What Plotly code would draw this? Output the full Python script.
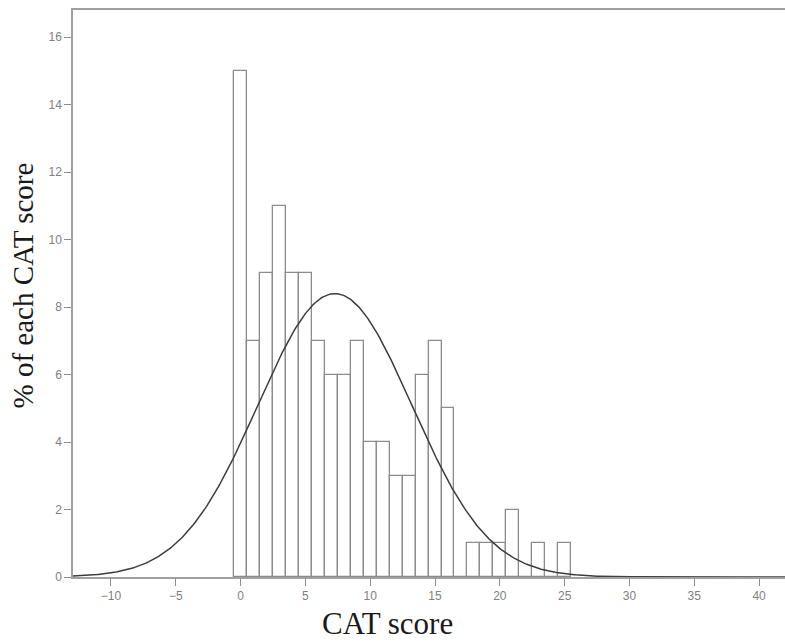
import numpy as np
import plotly.graph_objects as go

# Histogram data (CAT score bins and % values)
scores = list(range(0, 26))
percents = [15, 7, 9, 11, 9, 9, 7, 6, 6, 7, 4, 4, 3, 3, 6, 7, 5, 0, 1, 1, 1, 2, 0, 1, 0, 1]
x_ticks = [-10, -5, 0, 5, 10, 15, 20, 25, 30, 35, 40]
y_ticks = [0, 2, 4, 6, 8, 10, 12, 14, 16]

# Normal fit curve derived from the histogram
s = np.array(scores, float)
p = np.array(percents, float)
total = p.sum()
mean = (s * p).sum() / total
sd = np.sqrt(((s - mean) ** 2 * p).sum() / (total - 1))
xc = np.linspace(-13, 42, 600)
yc = total / (sd * np.sqrt(2 * np.pi)) * np.exp(-0.5 * ((xc - mean) / sd) ** 2)

fig = go.Figure()
fig.add_trace(go.Bar(x=scores, y=percents, width=1,
                     marker=dict(color="white", line=dict(color="#8c8c8c", width=1.3)),
                     showlegend=False))
fig.add_trace(go.Scatter(x=xc, y=yc, mode="lines",
                         line=dict(color="#3c3c3c", width=1.5), showlegend=False))

tick_font = dict(family="Liberation Sans, Arial", size=12, color="#808080")
fig.update_layout(
    width=785, height=642,
    margin=dict(l=73, r=0, t=10, b=65),
    plot_bgcolor="white", paper_bgcolor="white",
    bargap=0,
    xaxis=dict(range=[-12.93, 42.0], tickvals=x_ticks, ticks="outside", ticklen=7,
               tickcolor="#8c8c8c", showline=True, linecolor="#a0a0a0", linewidth=1.5,
               mirror=True, showgrid=False, zeroline=False, tickfont=tick_font),
    yaxis=dict(range=[0, 16.8], tickvals=y_ticks, ticks="outside", ticklen=7,
               tickcolor="#8c8c8c", showline=True, linecolor="#a0a0a0", linewidth=1.5,
               showgrid=False, zeroline=False, tickfont=tick_font),
    annotations=[
        dict(text="CAT score", xref="paper", yref="paper", x=0.442, y=0,
             xanchor="center", yanchor="middle", yshift=-46, showarrow=False,
             font=dict(family="Liberation Serif, Times New Roman", size=31, color="#1a1a1a")),
        dict(text="% of each CAT score", xref="paper", yref="paper", x=0, y=0.5,
             xanchor="center", yanchor="middle", xshift=-51, yshift=8, textangle=-90,
             showarrow=False,
             font=dict(family="Liberation Serif, Times New Roman", size=29, color="#1a1a1a")),
    ],
)
fig.write_html("out.html")
